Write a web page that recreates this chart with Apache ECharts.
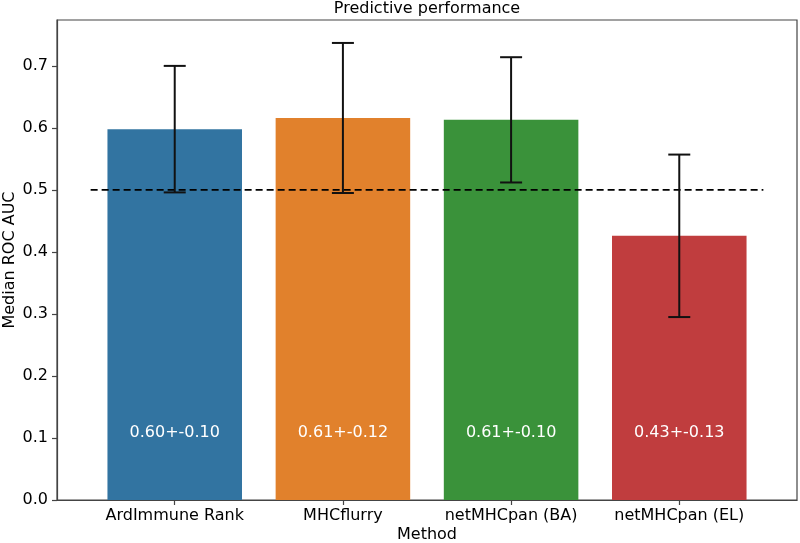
<!DOCTYPE html>
<html>
<head>
<meta charset="utf-8">
<script src="https://cdn.jsdelivr.net/npm/echarts@6/dist/echarts.min.js"></script>
<style>html,body{margin:0;padding:0;background:#fff}#c{width:800px;height:543px}</style>
</head>
<body>
<div id="c"></div>
<script>
const categories = ['ArdImmune Rank', 'MHCflurry', 'netMHCpan (BA)', 'netMHCpan (EL)'];
const positions = [0, 1, 2, 3];
const medians = [0.598, 0.616, 0.613, 0.426];
const errors = [0.102, 0.121, 0.101, 0.131];
const barLabels = ['0.60+-0.10', '0.61+-0.12', '0.61+-0.10', '0.43+-0.13'];
const colors = ['#3274a1', '#e1812c', '#3a923a', '#c03d3e'];
const yTicks = [0, 0.1, 0.2, 0.3, 0.4, 0.5, 0.6, 0.7];
const refLineX = [-0.5, 3.5];
const refLineY = 0.5;

const FONT = 'DejaVu Sans';
const chart = echarts.init(document.getElementById('c'));

const barData = positions.map((p, i) => [p, medians[i], errors[i], i]);

chart.setOption({
  animation: false,
  backgroundColor: '#fff',
  textStyle: { fontFamily: FONT },
  title: {
    text: 'Predictive performance',
    left: 427, top: 1, textAlign: 'center', padding: 0,
    textStyle: { fontFamily: FONT, fontSize: 16, fontWeight: 'normal', color: '#000' }
  },
  grid: {
    left: 57, right: 3, top: 20, bottom: 43,
    outerBoundsMode: 'none', containLabel: false,
    show: true, borderColor: '#444', borderWidth: 1.2, backgroundColor: 'transparent'
  },
  xAxis: {
    type: 'value', min: -0.7, max: 3.7,
    name: 'Method', nameLocation: 'middle', nameGap: 27, nameMoveOverlap: false,
    nameTextStyle: { fontFamily: FONT, fontSize: 16, color: '#000' },
    splitLine: { show: false },
    axisLine: { show: true, onZero: false, lineStyle: { color: '#444', width: 1.2 } },
    axisTick: { show: true, length: 5, customValues: positions, lineStyle: { color: '#444', width: 1.2 } },
    axisLabel: {
      customValues: positions, margin: 8,
      fontFamily: FONT, fontSize: 16, color: '#000',
      formatter: v => categories[Math.round(v)] || ''
    }
  },
  yAxis: {
    type: 'value', min: 0, max: 0.774,
    name: 'Median ROC AUC', nameLocation: 'middle', nameGap: 39, nameMoveOverlap: false,
    nameTextStyle: { fontFamily: FONT, fontSize: 16, color: '#000' },
    splitLine: { show: false },
    axisLine: { show: true, onZero: false, lineStyle: { color: '#444', width: 1.2 } },
    axisTick: { show: true, length: 5, customValues: yTicks, lineStyle: { color: '#444', width: 1.2 } },
    axisLabel: {
      customValues: yTicks, margin: 9,
      fontFamily: FONT, fontSize: 16, color: '#000',
      formatter: v => v.toFixed(1)
    }
  },
  series: [
    {
      type: 'custom',
      data: barData,
      z: 2,
      renderItem: (params, api) => {
        const x = api.value(0), y = api.value(1), i = api.value(3);
        const p0 = api.coord([x - 0.4, y]);
        const p1 = api.coord([x + 0.4, 0]);
        const pl = api.coord([x, 0.1]);
        return {
          type: 'group',
          children: [
            { type: 'rect', shape: { x: p0[0], y: p0[1], width: p1[0] - p0[0], height: p1[1] - p0[1] },
              style: { fill: colors[i] } },
            { type: 'text', z2: 10, style: { x: pl[0], y: pl[1] - 5, text: barLabels[i],
              fill: '#fff', fontFamily: FONT, fontSize: 16, align: 'center', verticalAlign: 'middle' } }
          ]
        };
      }
    },
    {
      type: 'line',
      data: refLineX.map(x => [x, refLineY]),
      symbol: 'none', z: 3,
      lineStyle: { color: '#000', width: 1.8, type: [7, 4] }
    },
    {
      type: 'custom',
      data: barData,
      z: 4,
      renderItem: (params, api) => {
        const x = api.value(0), y = api.value(1), e = api.value(2);
        const top = api.coord([x, y + e]);
        const bot = api.coord([x, y - e]);
        const cap = 11;
        const st = { stroke: '#111', lineWidth: 2 };
        return {
          type: 'group',
          children: [
            { type: 'line', shape: { x1: top[0], y1: top[1], x2: bot[0], y2: bot[1] }, style: st },
            { type: 'line', shape: { x1: top[0] - cap, y1: top[1], x2: top[0] + cap, y2: top[1] }, style: st },
            { type: 'line', shape: { x1: bot[0] - cap, y1: bot[1], x2: bot[0] + cap, y2: bot[1] }, style: st }
          ]
        };
      }
    }
  ]
});
</script>
</body>
</html>
